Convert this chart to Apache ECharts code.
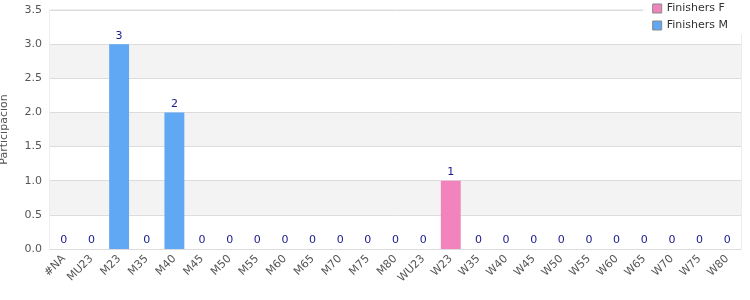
<!DOCTYPE html>
<html><head><meta charset="utf-8">
<script src="https://cdn.jsdelivr.net/npm/echarts@6/dist/echarts.min.js"></script>
<style>html,body{margin:0;padding:0;background:#fff}#c{width:750px;height:300px}</style>
</head><body><div id="c"></div>
<script>
var categories = ['#NA','MU23','M23','M35','M40','M45','M50','M55','M60','M65','M70','M75','M80','WU23','W23','W35','W40','W45','W50','W55','W60','W65','W70','W75','W80'];
var finishersM = [0,0,3,0,2,0,0,0,0,0,0,0,0,'-','-','-','-','-','-','-','-','-','-','-','-'];
var finishersF = ['-','-','-','-','-','-','-','-','-','-','-','-','-',0,1,0,0,0,0,0,0,0,0,0,0];
var yTicks = [0,0.5,1,1.5,2,2.5,3,3.5];

var chart = echarts.init(document.getElementById('c'));
var lbl = {show:true, position:'top', color:'#1a1a8c', fontSize:11, fontFamily:'DejaVu Sans', distance:3};
chart.setOption({
  animation:false,
  grid:{left:50, right:9, top:10, bottom:51, show:true, borderColor:'#dcdcdc', borderWidth:1, outerBoundsMode:'none', containLabel:false},
  legend:{
    orient:'vertical', right:8, top:1, itemWidth:9, itemHeight:9, itemGap:6, icon:'rect',
    backgroundColor:'#fff', padding:[2,14,3,9],
    textStyle:{color:'#333', fontSize:11, fontFamily:'DejaVu Sans'},
    data:[{name:'Finishers F', itemStyle:{borderColor:'#888', borderWidth:1}},
          {name:'Finishers M', itemStyle:{borderColor:'#888', borderWidth:1}}]
  },
  xAxis:{type:'category', data:categories,
    axisLine:{show:true, lineStyle:{color:'#dcdcdc'}}, axisTick:{show:false},
    axisLabel:{rotate:45, interval:0, color:'#555', fontSize:11, fontFamily:'DejaVu Sans', margin:8}},
  yAxis:{type:'value', min:yTicks[0], max:yTicks[yTicks.length-1], interval:0.5,
    name:'Participación', nameLocation:'middle', nameGap:40, nameRotate:90,
    nameTextStyle:{color:'#555', fontSize:11, fontFamily:'DejaVu Sans'},
    axisLine:{show:false}, axisTick:{show:false},
    axisLabel:{color:'#555', fontSize:11, fontFamily:'DejaVu Sans', formatter:function(v){return v.toFixed(1);}},
    splitLine:{show:true, lineStyle:{color:'#dcdcdc'}},
    splitArea:{show:true, areaStyle:{color:['#ffffff','#f3f3f3']}}},
  series:[
    {name:'Finishers F', type:'bar', stack:'t', data:finishersF, barWidth:'72%', itemStyle:{color:'#f283bc'}, label:lbl},
    {name:'Finishers M', type:'bar', stack:'t', data:finishersM, barWidth:'72%', itemStyle:{color:'#60a8f4'}, label:lbl}
  ]
});
</script></body></html>
